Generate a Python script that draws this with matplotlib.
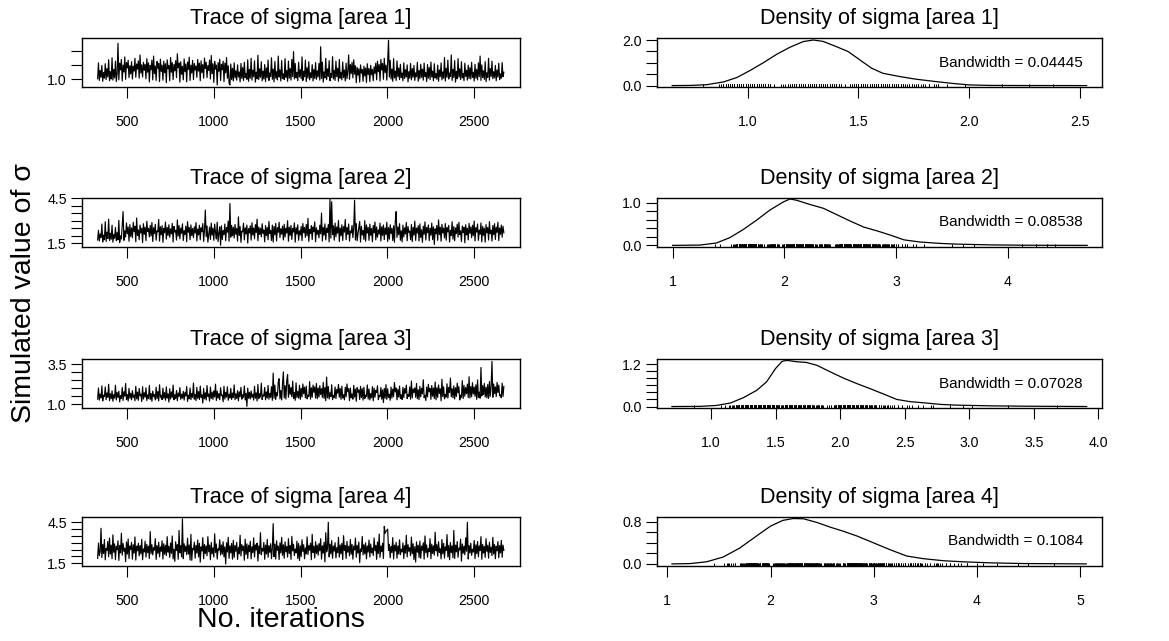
import numpy as np
import matplotlib
matplotlib.use("Agg")
import matplotlib.pyplot as plt

plt.rcParams['font.family'] = ['Liberation Sans', 'DejaVu Sans']

# ---------------- data ----------------
iter_start, iter_end = 331, 2670

trace_area1 = [
    1.02, 1.58, 0.96, 1.31, 1.07, 1.49, 0.93, 1.24, 1.04, 1.55, 0.99, 1.38, 1.08, 1.69, 0.95, 1.27, 1.01, 1.76, 0.97, 1.35,
    1.05, 1.64, 0.92, 1.21, 2.27, 0.98, 1.57, 1.33, 1.70, 0.94, 1.50, 1.26, 1.79, 1.00, 1.59, 1.40, 1.67, 1.06, 1.48, 1.19,
    1.62, 1.01, 1.46, 1.29, 1.74, 1.07, 1.54, 1.36, 1.65, 1.04, 1.86, 1.22, 1.51, 1.08, 1.60, 1.32, 1.53, 1.02, 1.73, 1.25,
    1.58, 0.91, 1.49, 1.34, 1.68, 0.98, 1.82, 1.20, 1.47, 0.96, 1.63, 1.39, 1.56, 0.92, 1.71, 1.28, 1.50, 0.97, 1.64, 1.23,
    1.55, 0.88, 1.69, 1.37, 1.48, 0.95, 1.77, 1.25, 1.59, 0.99, 1.52, 1.30, 1.66, 1.06, 1.90, 1.41, 1.57, 0.90, 1.62, 1.18,
    1.46, 0.98, 1.72, 1.27, 1.54, 0.91, 1.61, 1.35, 1.78, 0.96, 1.50, 1.22, 1.67, 0.99, 1.56, 1.33, 1.47, 1.07, 1.70, 1.29,
    1.57, 0.95, 1.65, 1.24, 1.52, 1.04, 1.75, 1.38, 1.60, 1.06, 1.49, 1.31, 1.68, 1.01, 1.84, 1.20, 1.55, 0.89, 1.63, 1.36,
    1.50, 0.80, 1.59, 1.28, 1.71, 0.96, 1.53, 1.34, 1.64, 0.92, 1.57, 1.23, 1.77, 1.04, 1.48, 0.87, 0.80, 1.54, 0.99, 1.39,
    0.94, 1.58, 1.05, 1.30, 0.97, 1.51, 1.08, 1.26, 0.91, 1.56, 1.03, 1.42, 0.96, 1.60, 1.06, 1.21, 1.00, 1.69, 0.93, 1.35,
    1.04, 1.74, 0.97, 1.32, 1.09, 1.65, 0.90, 1.25, 1.02, 1.85, 0.99, 1.37, 1.07, 1.62, 0.95, 1.29, 1.01, 1.52, 0.92, 1.40,
    1.06, 1.68, 0.96, 1.22, 1.10, 1.76, 1.00, 1.36, 0.91, 1.63, 1.04, 1.27, 0.98, 1.82, 1.08, 1.33, 0.94, 1.66, 1.03, 1.19,
    0.99, 1.73, 1.07, 1.31, 0.93, 1.64, 1.04, 1.38, 0.97, 1.70, 1.09, 1.98, 1.01, 1.56, 1.05, 1.24, 0.95, 1.60, 1.08, 1.34,
    1.02, 1.79, 0.96, 1.28, 1.09, 1.68, 0.92, 1.41, 1.04, 1.62, 0.98, 1.23, 1.06, 1.52, 0.94, 1.35, 1.03, 1.59, 1.00, 1.30,
    1.08, 1.56, 0.97, 2.15, 1.03, 1.61, 0.90, 1.26, 1.05, 1.74, 0.99, 1.37, 1.10, 1.66, 0.95, 1.21, 1.07, 1.80, 1.01, 1.32,
    0.96, 1.64, 1.09, 1.39, 0.93, 1.70, 1.04, 1.25, 0.98, 1.61, 1.06, 1.33, 0.94, 1.57, 1.02, 1.28, 1.86, 1.00, 1.52, 1.20,
    1.60, 1.05, 1.69, 1.18, 1.48, 0.88, 1.42, 1.15, 1.37, 0.90, 1.51, 1.22, 1.34, 0.93, 1.46, 1.12, 1.40, 0.89, 1.55, 1.17,
    1.38, 0.92, 1.49, 1.16, 1.35, 0.95, 1.44, 1.21, 1.57, 0.98, 1.64, 1.27, 1.52, 0.94, 1.70, 1.33, 1.56, 1.00, 1.74, 1.24,
    1.50, 0.97, 1.62, 2.38, 1.08, 1.67, 1.01, 1.36, 0.93, 1.73, 1.05, 1.29, 0.96, 1.65, 1.09, 1.40, 0.99, 1.53, 1.06, 1.22,
    0.95, 1.58, 1.03, 1.34, 1.08, 1.51, 0.91, 1.27, 1.04, 1.56, 0.98, 1.38, 1.07, 1.49, 0.96, 1.23, 1.09, 1.60, 0.93, 1.31,
    1.02, 1.53, 1.07, 1.36, 0.97, 1.57, 1.10, 1.24, 0.92, 1.52, 1.04, 1.42, 0.99, 1.61, 1.08, 1.29, 0.95, 1.55, 1.05, 1.20,
    1.00, 1.50, 0.93, 1.33, 1.09, 1.58, 0.98, 1.26, 1.04, 1.77, 0.94, 1.39, 1.07, 1.68, 1.01, 1.22, 1.10, 1.86, 0.96, 1.35,
    1.06, 1.66, 0.90, 1.28, 1.02, 1.73, 1.08, 1.37, 0.99, 1.62, 1.05, 1.21, 0.95, 1.57, 1.10, 1.32, 0.97, 1.50, 1.03, 1.41,
    1.01, 1.60, 1.07, 1.25, 0.94, 1.53, 1.04, 1.35, 0.98, 1.58, 1.09, 1.82, 0.96, 1.51, 1.06, 1.30, 1.00, 1.62, 0.92, 1.23,
    1.07, 1.74, 0.97, 1.38, 1.10, 1.64, 1.02, 1.27, 1.05, 1.49, 0.95, 1.33, 1.08, 1.57, 0.99, 1.19, 1.04, 1.59, 1.09, 1.25,
]

trace_area2 = [
    1.72, 2.36, 1.66, 2.12, 1.89, 2.78, 1.59, 2.05, 1.75, 2.93, 1.63, 2.24, 1.82, 3.10, 1.69, 2.17, 1.77, 2.70, 1.58, 2.08,
    1.84, 2.55, 1.67, 2.21, 1.73, 3.02, 1.56, 2.00, 1.79, 2.66, 3.60, 1.70, 2.33, 1.92, 2.85, 2.14, 2.58, 1.64, 2.74, 1.95,
    2.52, 1.87, 2.89, 2.27, 2.63, 1.60, 3.18, 2.03, 2.39, 1.74, 2.71, 2.19, 2.50, 1.55, 2.80, 2.10, 2.57, 1.68, 2.96, 2.29,
    2.47, 1.93, 2.69, 1.99, 2.88, 1.62, 2.54, 2.15, 2.76, 1.71, 2.32, 2.26, 3.08, 1.65, 2.60, 2.07, 2.67, 1.57, 2.49, 2.20,
    2.91, 1.78, 2.56, 2.02, 2.73, 1.90, 2.46, 2.13, 2.82, 1.59, 2.62, 2.25, 2.37, 1.72, 3.05, 1.98, 2.68, 1.80, 2.51, 2.16,
    2.79, 1.69, 2.34, 2.09, 2.64, 1.61, 2.94, 2.23, 2.55, 1.74, 2.72, 2.01, 2.48, 1.88, 2.59, 2.18, 2.87, 1.66, 2.45, 2.06,
    2.70, 1.73, 2.53, 2.28, 2.81, 1.63, 2.40, 3.70, 1.94, 2.65, 1.58, 2.11, 2.58, 1.76, 2.84, 2.04, 2.50, 1.70, 2.77, 2.22,
    1.79, 2.90, 1.62, 2.16, 2.59, 1.38, 2.66, 1.75, 2.35, 2.08, 2.78, 1.68, 2.55, 2.24, 2.98, 1.64, 4.13, 1.91, 2.69, 2.00,
    2.57, 1.86, 2.75, 2.10, 2.49, 1.65, 3.25, 2.02, 2.61, 1.57, 2.31, 2.26, 2.83, 1.73, 2.53, 2.13, 2.71, 1.52, 2.47, 2.19,
    2.66, 1.71, 2.86, 2.05, 2.52, 1.80, 2.74, 2.21, 3.10, 1.67, 2.58, 2.09, 2.50, 1.93, 2.80, 2.17, 2.38, 1.60, 2.68, 2.01,
    2.55, 1.74, 2.95, 2.14, 2.36, 1.69, 2.71, 1.59, 2.62, 2.07, 2.82, 1.66, 2.53, 2.23, 2.90, 1.89, 2.47, 2.11, 2.64, 1.72,
    2.76, 1.92, 2.51, 2.18, 3.00, 1.64, 2.57, 2.03, 2.69, 1.76, 2.49, 2.25, 2.85, 1.58, 2.54, 2.12, 2.73, 1.70, 2.33, 2.06,
    2.62, 1.68, 2.81, 2.20, 2.55, 1.90, 2.75, 2.00, 3.15, 1.63, 2.41, 2.15, 2.68, 1.75, 2.58, 2.27, 2.92, 1.61, 2.53, 2.09,
    2.37, 1.87, 2.70, 2.13, 3.50, 1.66, 2.56, 2.04, 2.79, 1.73, 2.51, 2.22, 2.75, 1.60, 4.42, 1.85, 4.25, 2.08, 2.66, 1.71,
    2.84, 1.94, 2.59, 2.17, 3.02, 1.62, 2.52, 2.01, 2.73, 1.69, 2.61, 2.24, 3.08, 1.74, 2.55, 2.10, 2.78, 1.65, 2.32, 2.19,
    2.69, 1.88, 2.57, 4.35, 1.72, 2.81, 1.67, 2.14, 2.54, 2.95, 1.59, 2.63, 2.06, 2.35, 1.76, 3.00, 1.64, 2.72, 2.18, 2.56,
    1.70, 2.77, 2.03, 2.49, 1.61, 2.68, 2.20, 2.91, 1.73, 2.58, 1.91, 2.39, 2.11, 2.84, 1.66, 2.60, 2.02, 2.71, 1.75, 2.52,
    2.09, 2.89, 1.63, 2.55, 1.78, 2.73, 2.16, 2.49, 1.69, 2.66, 1.58, 2.98, 3.60, 1.90, 2.58, 2.07, 2.80, 1.71, 2.34, 1.60,
    2.70, 1.93, 2.53, 2.12, 2.88, 1.67, 2.61, 2.23, 2.31, 1.74, 2.75, 1.62, 2.56, 2.05, 2.97, 1.70, 2.51, 2.18, 2.67, 1.66,
    2.79, 1.89, 2.40, 1.57, 2.64, 2.10, 2.92, 1.72, 2.55, 2.21, 2.72, 1.68, 2.50, 2.04, 2.84, 1.75, 2.59, 1.42, 2.46, 2.13,
    2.68, 1.70, 3.05, 2.08, 2.57, 1.64, 2.76, 2.19, 2.51, 1.86, 2.81, 1.71, 2.54, 2.26, 2.69, 1.59, 2.36, 2.02, 2.93, 1.78,
    2.61, 1.67, 2.52, 2.15, 2.77, 1.92, 2.89, 2.09, 2.33, 1.62, 2.65, 2.22, 2.56, 1.54, 2.73, 2.06, 2.50, 1.73, 2.82, 2.17,
    2.58, 1.88, 2.70, 2.01, 2.98, 1.66, 2.53, 2.25, 2.78, 1.70, 2.38, 2.11, 2.85, 1.60, 2.62, 2.03, 2.51, 1.58, 2.74, 2.20,
    2.55, 1.72, 2.94, 2.14, 2.37, 1.65, 2.68, 2.07, 2.80, 1.76, 2.57, 2.23, 2.90, 1.68, 2.52, 2.10, 2.71, 1.91, 2.63, 2.20,
]

trace_area3 = [
    1.32, 2.02, 1.26, 1.63, 1.40, 2.15, 1.21, 1.57, 1.48, 2.08, 1.29, 1.71, 1.44, 2.25, 1.23, 1.66, 1.35, 1.84, 1.19, 1.60,
    1.39, 2.19, 1.27, 1.74, 1.43, 1.82, 1.15, 1.55, 1.36, 2.05, 1.24, 1.78, 1.51, 2.30, 1.30, 1.62, 1.20, 2.00, 1.38, 1.69,
    1.28, 1.85, 1.42, 1.58, 1.22, 2.12, 1.34, 1.76, 1.25, 1.99, 1.53, 1.64, 1.17, 2.10, 1.33, 1.72, 1.45, 2.03, 1.24, 1.59,
    1.36, 2.18, 1.30, 1.68, 1.19, 1.83, 1.47, 1.61, 1.27, 2.07, 1.35, 1.80, 1.21, 2.22, 1.44, 1.56, 1.29, 2.01, 1.38, 1.73,
    1.25, 2.09, 1.39, 1.65, 1.14, 1.97, 1.33, 1.77, 1.43, 2.20, 1.28, 1.60, 1.36, 1.86, 1.22, 1.70, 1.50, 2.04, 1.31, 1.63,
    1.38, 1.81, 1.26, 1.75, 1.52, 2.11, 1.18, 1.57, 1.35, 2.02, 1.29, 1.68, 1.44, 2.33, 1.32, 1.61, 1.23, 2.06, 1.37, 1.79,
    1.30, 2.14, 1.43, 1.59, 1.08, 1.99, 1.34, 1.72, 1.27, 2.17, 1.49, 1.64, 1.20, 2.08, 1.36, 1.76, 1.31, 1.84, 1.45, 2.26,
    1.24, 1.82, 1.38, 1.67, 1.28, 2.04, 1.54, 1.58, 1.16, 2.13, 1.33, 1.74, 1.45, 2.09, 1.25, 1.62, 1.39, 2.00, 1.30, 1.70,
    1.42, 2.21, 1.29, 1.65, 1.36, 1.85, 1.22, 1.78, 1.47, 2.06, 1.32, 1.60, 1.44, 2.15, 1.27, 1.69, 0.87, 2.01, 1.37, 1.75,
    1.33, 1.83, 1.43, 1.63, 1.26, 2.12, 1.38, 1.71, 1.21, 2.24, 1.35, 1.66, 1.45, 2.32, 1.30, 1.58, 1.51, 2.05, 1.28, 1.77,
    1.39, 2.18, 1.32, 1.68, 1.44, 2.10, 1.25, 2.95, 1.37, 2.20, 1.30, 1.73, 1.53, 2.40, 2.60, 1.34, 1.86, 1.27, 2.28, 3.02,
    1.40, 2.16, 1.33, 2.48, 2.85, 1.44, 2.22, 1.62, 2.05, 1.47, 2.45, 1.36, 1.74, 1.25, 2.34, 1.42, 1.80, 1.38, 2.19, 1.31,
    2.00, 1.46, 2.27, 1.66, 2.07, 1.41, 2.14, 1.34, 1.57, 1.49, 2.42, 1.32, 2.03, 1.44, 2.20, 1.75, 2.09, 1.39, 2.30, 1.35,
    2.02, 1.45, 2.16, 1.61, 1.98, 1.43, 2.37, 1.37, 2.05, 1.22, 2.70, 1.40, 2.11, 1.33, 1.72, 1.48, 2.22, 1.29, 1.55, 1.42,
    2.08, 1.36, 1.93, 1.69, 2.24, 1.44, 1.99, 1.31, 2.13, 1.39, 1.60, 1.28, 2.06, 1.47, 2.27, 1.78, 1.97, 1.23, 2.02, 1.41,
    1.64, 1.32, 2.18, 1.45, 1.95, 1.19, 2.04, 1.76, 1.90, 1.30, 2.12, 1.42, 1.98, 1.26, 2.07, 1.36, 1.58, 1.49, 2.21, 1.33,
    1.96, 1.27, 1.67, 1.40, 2.10, 1.22, 2.01, 1.44, 1.87, 1.73, 2.16, 1.29, 1.56, 1.47, 2.05, 1.32, 1.91, 1.11, 1.99, 1.38,
    2.23, 1.31, 1.97, 1.43, 1.63, 1.25, 2.08, 1.39, 1.95, 1.48, 2.36, 1.77, 2.02, 1.28, 1.93, 1.45, 2.14, 1.37, 1.59, 1.30,
    2.06, 1.42, 1.98, 1.70, 2.20, 1.36, 1.62, 1.49, 2.09, 1.32, 2.45, 1.40, 1.96, 1.74, 2.03, 1.44, 2.30, 1.35, 1.91, 1.29,
    2.12, 1.47, 2.00, 1.65, 2.53, 1.41, 1.57, 1.24, 2.07, 1.46, 2.25, 1.79, 1.99, 1.31, 2.17, 1.50, 2.02, 1.36, 2.39, 1.28,
    2.04, 1.43, 2.21, 1.68, 1.97, 1.22, 2.56, 1.48, 2.09, 1.34, 1.60, 1.45, 2.28, 1.39, 2.06, 1.75, 2.64, 1.47, 1.98, 1.41,
    2.15, 1.33, 2.03, 1.49, 2.32, 1.71, 2.10, 1.27, 1.58, 1.44, 2.48, 1.36, 2.18, 1.51, 2.05, 1.66, 2.26, 1.42, 2.72, 1.39,
    2.11, 1.47, 2.35, 1.64, 2.08, 1.50, 2.22, 1.31, 2.52, 1.43, 1.76, 1.38, 3.30, 1.52, 2.17, 1.61, 2.30, 1.46, 2.07, 1.40,
    2.24, 1.37, 2.42, 1.50, 2.14, 3.68, 1.44, 2.27, 1.67, 2.09, 1.48, 2.37, 1.73, 2.20, 1.53, 1.59, 1.41, 2.32, 1.49, 2.12,
]

trace_area4 = [
    1.86, 2.98, 2.06, 2.35, 4.06, 1.92, 2.87, 2.21, 3.24, 1.75, 2.58, 2.44, 3.10, 1.98, 3.35, 2.18, 2.83, 1.83, 3.58, 2.30,
    2.92, 1.77, 2.74, 2.49, 3.15, 1.71, 2.81, 2.26, 3.70, 2.09, 2.95, 2.38, 2.61, 1.62, 3.06, 2.17, 3.28, 1.84, 2.77, 2.52,
    3.02, 1.80, 2.85, 2.24, 3.43, 1.73, 2.76, 2.41, 2.97, 2.04, 2.80, 2.19, 3.26, 1.76, 2.55, 2.33, 3.12, 1.95, 2.89, 2.28,
    2.75, 1.85, 3.82, 2.20, 2.86, 2.11, 2.64, 2.46, 3.30, 1.78, 2.79, 2.23, 3.04, 1.97, 2.70, 2.37, 3.14, 1.81, 2.93, 2.16,
    2.82, 2.07, 3.45, 2.31, 2.74, 1.93, 2.99, 2.22, 3.50, 1.82, 2.53, 1.64, 3.08, 2.43, 2.87, 1.79, 3.90, 2.27, 2.78, 1.98,
    4.75, 1.84, 2.93, 2.36, 2.76, 2.13, 3.33, 2.18, 2.84, 1.74, 3.61, 1.71, 2.59, 2.48, 3.05, 1.87, 2.81, 2.25, 3.20, 1.96,
    2.96, 1.58, 2.70, 2.40, 3.38, 1.83, 2.88, 2.21, 2.77, 2.05, 3.45, 2.34, 2.83, 1.76, 3.02, 2.19, 2.62, 1.95, 3.66, 2.29,
    2.91, 1.81, 2.56, 2.45, 3.22, 2.10, 2.84, 2.17, 3.07, 1.97, 2.71, 1.45, 3.00, 2.32, 3.40, 1.86, 2.78, 2.26, 2.95, 1.80,
    3.18, 1.93, 2.80, 2.38, 3.04, 1.78, 2.66, 2.20, 3.55, 2.03, 2.87, 2.42, 2.76, 1.72, 3.26, 2.15, 2.92, 1.85, 2.82, 2.35,
    3.10, 1.82, 2.71, 2.28, 3.36, 1.96, 2.85, 2.47, 2.97, 1.66, 2.77, 2.23, 3.74, 2.12, 2.57, 2.39, 3.03, 1.79, 2.83, 2.18,
    3.25, 1.94, 2.79, 2.30, 2.93, 1.84, 2.60, 4.40, 1.98, 2.90, 1.81, 3.14, 2.44, 2.76, 1.77, 3.00, 2.25, 3.40, 2.08, 2.85,
    1.87, 3.06, 2.34, 2.74, 1.95, 3.30, 2.21, 2.81, 1.79, 3.47, 2.40, 2.89, 2.06, 2.54, 2.27, 3.12, 1.85, 2.95, 1.70, 2.78,
    1.99, 3.22, 2.36, 2.86, 1.83, 2.63, 2.19, 3.43, 2.14, 2.80, 2.46, 2.97, 1.76, 3.62, 2.29, 2.75, 1.88, 3.08, 2.22, 2.83,
    2.09, 2.94, 2.41, 3.30, 1.81, 2.78, 2.24, 3.04, 1.60, 3.74, 2.33, 2.58, 4.50, 1.97, 2.89, 2.18, 3.16, 1.86, 2.76, 2.39,
    3.01, 1.89, 2.65, 2.28, 3.40, 1.95, 2.84, 2.20, 2.96, 1.77, 3.52, 2.43, 2.79, 1.84, 3.10, 2.31, 2.74, 2.04, 3.24, 2.16,
    2.88, 1.80, 2.75, 2.47, 3.35, 1.94, 2.82, 2.25, 3.06, 1.55, 2.55, 2.37, 3.46, 2.11, 2.86, 2.19, 3.00, 1.82, 2.77, 2.32,
    3.20, 1.96, 2.91, 2.26, 2.61, 2.07, 3.35, 2.42, 2.81, 1.79, 3.05, 2.21, 3.64, 1.93, 2.76, 2.35, 2.97, 1.85, 4.20, 3.70,
    3.85, 3.90, 4.00, 2.44, 2.89, 1.90, 2.74, 2.29, 3.38, 1.81, 2.83, 2.40, 3.04, 1.87, 2.77, 2.18, 3.22, 2.13, 2.52, 2.33,
    2.99, 1.84, 2.79, 2.24, 3.55, 1.97, 2.86, 2.38, 2.64, 2.05, 3.42, 2.20, 2.93, 1.78, 2.72, 1.59, 3.07, 2.31, 2.82, 1.92,
    3.12, 1.86, 2.76, 2.45, 3.00, 1.80, 3.50, 2.27, 2.84, 1.95, 2.59, 2.36, 3.30, 1.83, 2.90, 2.22, 2.78, 2.10, 3.78, 2.41,
    2.86, 2.02, 3.08, 2.30, 2.56, 1.82, 3.24, 2.19, 2.95, 1.88, 2.70, 2.43, 3.60, 1.96, 2.81, 1.76, 3.02, 2.28, 2.77, 1.90,
    3.90, 1.85, 2.83, 2.34, 3.09, 1.94, 2.62, 2.47, 3.26, 1.66, 2.91, 2.23, 2.75, 2.12, 3.36, 2.38, 4.50, 1.81, 2.80, 2.26,
    2.97, 2.08, 2.53, 2.32, 3.17, 1.84, 2.85, 2.21, 3.09, 1.97, 2.77, 2.44, 3.45, 1.79, 2.88, 2.25, 2.74, 1.93, 3.30, 2.37,
    2.82, 1.87, 3.04, 2.29, 2.67, 2.06, 3.40, 2.18, 2.87, 1.83, 2.75, 2.41, 3.09, 1.90, 2.79, 2.26, 3.18, 1.94, 2.83, 2.45,
]

# density curves (x = sigma, y = density)
dens1_x = [0.659, 0.74, 0.815, 0.89, 0.95, 1.01, 1.07, 1.13, 1.19, 1.25, 1.296, 1.34, 1.40, 1.454, 1.507, 1.56, 1.61, 1.69, 1.76, 1.85, 1.93, 2.00, 2.09, 2.24, 2.53]
dens1_y = [0.0, 0.007, 0.04, 0.16, 0.35, 0.66, 1.00, 1.37, 1.68, 1.93, 2.00, 1.94, 1.71, 1.49, 1.12, 0.76, 0.54, 0.39, 0.28, 0.175, 0.09, 0.03, 0.008, 0.003, 0.0]

dens2_x = [1.00, 1.245, 1.39, 1.51, 1.63, 1.75, 1.87, 1.99, 2.05, 2.11, 2.23, 2.35, 2.47, 2.59, 2.71, 2.83, 2.95, 3.07, 3.21, 3.39, 3.54, 3.84, 4.14, 4.71]
dens2_y = [0.0, 0.008, 0.055, 0.18, 0.37, 0.59, 0.83, 1.02, 1.09, 1.06, 0.96, 0.87, 0.72, 0.57, 0.43, 0.34, 0.24, 0.13, 0.08, 0.047, 0.03, 0.012, 0.004, 0.0]

dens3_x = [0.697, 0.915, 1.04, 1.15, 1.25, 1.354, 1.43, 1.50, 1.55, 1.587, 1.665, 1.74, 1.82, 1.92, 2.03, 2.13, 2.23, 2.34, 2.44, 2.54, 2.65, 2.78, 2.90, 3.16, 3.42, 3.91]
dens3_y = [0.0, 0.005, 0.03, 0.10, 0.25, 0.46, 0.70, 1.08, 1.28, 1.31, 1.27, 1.25, 1.17, 0.99, 0.80, 0.65, 0.51, 0.35, 0.20, 0.14, 0.105, 0.06, 0.04, 0.02, 0.01, 0.0]

dens4_x = [1.045, 1.22, 1.38, 1.54, 1.70, 1.87, 2.00, 2.12, 2.22, 2.32, 2.45, 2.58, 2.71, 2.84, 3.00, 3.16, 3.32, 3.48, 3.68, 3.87, 4.13, 4.45, 5.06]
dens4_y = [0.0, 0.006, 0.04, 0.13, 0.30, 0.54, 0.72, 0.83, 0.865, 0.86, 0.79, 0.70, 0.62, 0.53, 0.40, 0.27, 0.15, 0.10, 0.06, 0.04, 0.02, 0.007, 0.0]

bandwidths = ["0.04445", "0.08538", "0.07028", "0.1084"]
area_names = ["area 1", "area 2", "area 3", "area 4"]

trace_xticks = [500, 1000, 1500, 2000, 2500]
trace_yticks = [[1.0, 1.5, 2.0], [1.5, 2.0, 2.5, 3.0, 3.5, 4.0, 4.5],
                [1.0, 1.5, 2.0, 2.5, 3.0, 3.5], [1.5, 2.0, 2.5, 3.0, 3.5, 4.0, 4.5]]
trace_ylabels = [["1.0", "", ""], ["1.5", "", "", "", "", "", "4.5"],
                 ["1.0", "", "", "", "", "3.5"], ["1.5", "", "", "", "", "", "4.5"]]
trace_ylims = [(0.718, 2.447), (1.24, 4.52), (0.75, 3.81), (1.30, 4.91)]

dens_xticks = [[1.0, 1.5, 2.0, 2.5], [1, 2, 3, 4], [1.0, 1.5, 2.0, 2.5, 3.0, 3.5, 4.0], [1, 2, 3, 4, 5]]
dens_xlabels = [["1.0", "1.5", "2.0", "2.5"], ["1", "2", "3", "4"],
                ["1.0", "1.5", "2.0", "2.5", "3.0", "3.5", "4.0"], ["1", "2", "3", "4", "5"]]
dens_yticks = [[0.0, 0.5, 1.0, 1.5, 2.0], [0.0, 0.2, 0.4, 0.6, 0.8, 1.0],
               [0.0, 0.2, 0.4, 0.6, 0.8, 1.0, 1.2], [0.0, 0.2, 0.4, 0.6, 0.8]]
dens_ylabels = [["0.0", "", "", "", "2.0"], ["0.0", "", "", "", "", "1.0"],
                ["0.0", "", "", "", "", "", "1.2"], ["0.0", "", "", "", "0.8"]]
dens_xlims = [(0.589, 2.598), (0.857, 4.84), (0.579, 4.026), (0.897, 5.21)]
dens_ylims = [(-0.075, 2.075), (-0.045, 1.12), (-0.05, 1.34), (-0.04, 0.9)]

traces = [trace_area1, trace_area2, trace_area3, trace_area4]
dens_x = [dens1_x, dens2_x, dens3_x, dens4_x]
dens_y = [dens1_y, dens2_y, dens3_y, dens4_y]

# ---------------- figure ----------------
W, H = 1169, 641
fig = plt.figure(figsize=(W / 100, H / 100), dpi=100)


def px_axes(x0, y0, x1, y1):
    return fig.add_axes([x0 / W, 1 - y1 / H, (x1 - x0) / W, (y1 - y0) / H])


def style(ax):
    for s in ax.spines.values():
        s.set_linewidth(1.0)
        s.set_color('black')
    ax.tick_params(axis='both', direction='out', length=7.9, width=0.8, labelsize=10.2, colors='black')
    ax.tick_params(axis='x', pad=12)
    ax.tick_params(axis='y', pad=3)


row_top = [38.3, 197.7, 359.3, 516.7]
row_bot = [87.3, 247.3, 408.3, 566.0]
left_x = (82.0, 520.0)
right_x = (656.7, 1101.7)

for i in range(4):
    vals = traces[i]
    iters = np.linspace(iter_start, iter_end, len(vals))

    # trace panel
    ax = px_axes(left_x[0], row_top[i], left_x[1], row_bot[i])
    ax.plot(iters, vals, color='black', lw=0.85)
    ax.set_xlim(241, 2763)
    ax.set_ylim(*trace_ylims[i])
    ax.set_xticks(trace_xticks)
    ax.set_xticklabels([str(t) for t in trace_xticks])
    ax.set_yticks(trace_yticks[i])
    ax.set_yticklabels(trace_ylabels[i])
    style(ax)
    ax.set_title("Trace of sigma [%s]" % area_names[i], fontsize=15.6, pad=10)

    # density panel
    ax2 = px_axes(right_x[0], row_top[i], right_x[1], row_bot[i])
    ax2.plot(dens_x[i], dens_y[i], color='black', lw=0.9)
    ax2.vlines(vals, 0.0, 0.06, transform=ax2.get_xaxis_transform(), color='black', lw=0.7)
    ax2.set_xlim(*dens_xlims[i])
    ax2.set_ylim(*dens_ylims[i])
    ax2.set_xticks(dens_xticks[i])
    ax2.set_xticklabels(dens_xlabels[i])
    ax2.set_yticks(dens_yticks[i])
    ax2.set_yticklabels(dens_ylabels[i])
    style(ax2)
    ax2.set_title("Density of sigma [%s]" % area_names[i], fontsize=15.6, pad=10)
    ax2.text(1 - 18.7 / (right_x[1] - right_x[0]), 0.5, "Bandwidth = " + bandwidths[i],
             transform=ax2.transAxes, ha='right', va='center', fontsize=11)

fig.text(24 / W, 1 - 293 / H, "Simulated value of σ", rotation=90, ha='center', va='center', fontsize=20.5)
fig.text(281 / W, 1 - 620 / H, "No. iterations", ha='center', va='center', fontsize=20.5)

fig.savefig("out.png", dpi=100)
